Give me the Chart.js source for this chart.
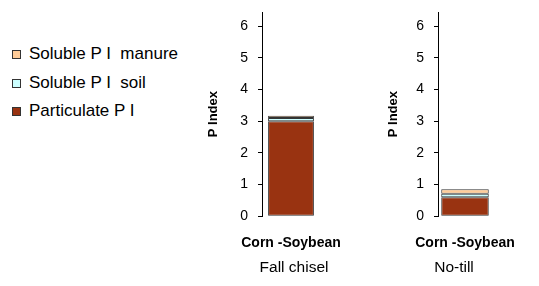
<!DOCTYPE html>
<html>
<head>
<meta charset="utf-8">
<script src="https://cdn.jsdelivr.net/npm/chart.js@4"></script>
<style>
  body { margin: 0; background: #fff; }
  #wrap { position: relative; width: 539px; height: 286px; overflow: hidden; font-family: "Liberation Sans", Arial, sans-serif; }
  canvas { position: absolute; top: 0; }
  #legend { position: absolute; left: 12px; top: 44px; }
  .row { position: relative; height: 28.5px; font-size: 17px; line-height: 20px; color: #000; white-space: pre; }
  .sw { position: absolute; left: 0; top: 6px; width: 7px; height: 7px; border: 1px solid #333; }
  .lbl { position: absolute; left: 17px; top: 0; }
</style>
</head>
<body>
<div id="wrap">
  <div id="legend"></div>
  <canvas id="chartA" width="170" height="286" style="left:200px"></canvas>
  <canvas id="chartB" width="159" height="286" style="left:380px"></canvas>
</div>
<script>
document.addEventListener("DOMContentLoaded", function () {
    // data
    const categories = ["Corn -Soybean"];
    const panels = ["Fall chisel", "No-till"];
    const seriesNames = ["Particulate P I", "Soluble P I  soil", "Soluble P I  manure"];
    const seriesColors = ["#993311", "#ccffff", "#ffcc99"];
    const particulate = [3.0, 0.6];
    const solubleSoil = [0.1, 0.11];
    const solubleManure = [0.07, 0.14];
    const yTicks = [0, 1, 2, 3, 4, 5, 6];

    const fontFamily = "'Liberation Sans', Arial, sans-serif";
    const seriesValues = [particulate, solubleSoil, solubleManure];
    const barPct = [0.79, 0.88];
    const padRight = [50, 47];
    const panelShift = [3, -11];

    // legend, top entry is the top of the stack
    const legend = document.getElementById("legend");
    for (let i = seriesNames.length - 1; i >= 0; i--) {
        const row = document.createElement("div");
        row.className = "row";
        row.innerHTML = `<span class="sw" style="background:${seriesColors[i]}"></span><span class="lbl">${seriesNames[i]}</span>`;
        legend.appendChild(row);
    }

    // panel name under the category label (scale title would be squeezed to the area width)
    const panelLabel = {
        id: "panelLabel",
        afterDraw(chart, args, opts) {
            const area = chart.chartArea;
            const c = chart.ctx;
            c.save();
            c.font = `15.5px ${fontFamily}`;
            c.fillStyle = "#000";
            c.textAlign = "center";
            c.textBaseline = "middle";
            c.fillText(opts.text, (area.left + area.right) / 2 + opts.shift, area.bottom + 52);
            c.restore();
        }
    };

    function makeChart(canvasId, p) {
        const ctx = document.getElementById(canvasId).getContext("2d");
        return new Chart(ctx, {
            type: "bar",
            data: {
                labels: categories,
                datasets: seriesNames.map((name, i) => ({
                    label: name,
                    data: [seriesValues[i][p]],
                    backgroundColor: seriesColors[i],
                    borderColor: "#333333",
                    borderWidth: 1,
                    borderSkipped: false,
                    categoryPercentage: 1,
                    barPercentage: barPct[p]
                }))
            },
            plugins: [panelLabel],
            options: {
                responsive: false,
                animation: false,
                layout: { padding: { top: 12, right: padRight[p], bottom: 15, left: 4 } },
                plugins: {
                    legend: { display: false },
                    tooltip: { enabled: false },
                    panelLabel: { text: panels[p], shift: panelShift[p] }
                },
                scales: {
                    x: {
                        stacked: true,
                        grid: { display: false, drawTicks: false },
                        border: { display: false },
                        ticks: { color: "#000", padding: 19, maxRotation: 0, autoSkip: false, font: { family: fontFamily, size: 14, weight: "bold" } },
                        // the long category label may hang over the area edges
                        afterFit: s => { s.paddingLeft = 0; s.paddingRight = 0; }
                    },
                    y: {
                        stacked: true,
                        min: 0,
                        max: 6.45,
                        afterBuildTicks: s => { s.ticks = yTicks.map(v => ({ value: v })); },
                        afterFit: s => { s.paddingTop = 0; s.paddingBottom = 0; },
                        grid: { display: true, drawOnChartArea: false, drawTicks: true, tickLength: 4, color: "#000" },
                        border: { display: true, color: "#000", width: 1 },
                        ticks: { color: "#000", padding: 10, font: { family: fontFamily, size: 14 } },
                        title: { display: true, text: "P Index", color: "#000", padding: { top: 2, bottom: 18 }, font: { family: fontFamily, size: 13, weight: "bold" } }
                    }
                }
            }
        });
    }

    makeChart("chartA", 0);
    makeChart("chartB", 1);
});
</script>
</body>
</html>
